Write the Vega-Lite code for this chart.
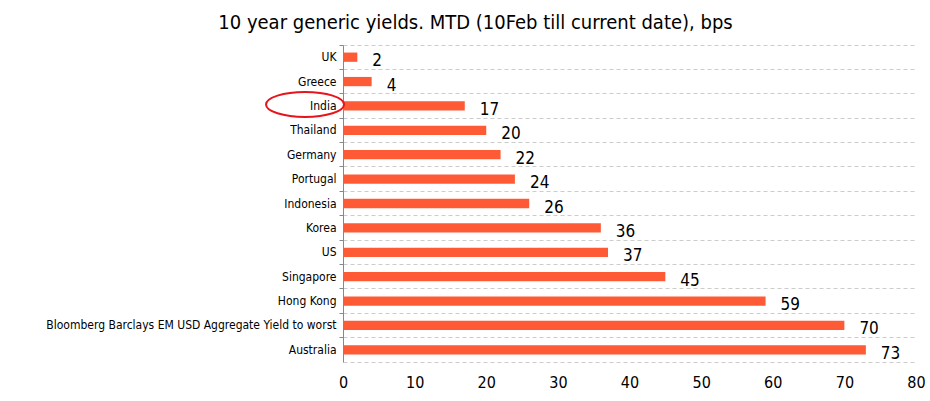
{
  "$schema": "https://vega.github.io/schema/vega-lite/v6.json",
  "autosize": {"type": "none"},
  "padding": {"left": 343, "top": 45, "right": 14, "bottom": 39},
  "width": 573,
  "height": 317,
  "background": "white",
  "config": {"view": {"stroke": null}, "font": "DejaVu Sans Condensed, Liberation Sans"},
  "title": {
    "text": "10 year generic yields. MTD (10Feb till current date), bps",
    "font": "DejaVu Sans Condensed, Liberation Sans",
    "fontSize": 20,
    "fontWeight": "normal",
    "color": "#000000",
    "anchor": "middle",
    "dx": -154,
    "offset": 12
  },
  "data": {
    "values": [
      {"country": "UK", "bps": 2},
      {"country": "Greece", "bps": 4},
      {"country": "India", "bps": 17},
      {"country": "Thailand", "bps": 20},
      {"country": "Germany", "bps": 22},
      {"country": "Portugal", "bps": 24},
      {"country": "Indonesia", "bps": 26},
      {"country": "Korea", "bps": 36},
      {"country": "US", "bps": 37},
      {"country": "Singapore", "bps": 45},
      {"country": "Hong Kong", "bps": 59},
      {"country": "Bloomberg Barclays EM USD Aggregate Yield to worst", "bps": 70},
      {"country": "Australia", "bps": 73}
    ]
  },
  "encoding": {
    "y": {
      "field": "country",
      "type": "nominal",
      "sort": null,
      "scale": {"paddingInner": 0, "paddingOuter": 0},
      "axis": {
        "title": null,
        "bandPosition": 0,
        "grid": true,
        "gridDash": [4, 3],
        "gridColor": "#cccccc",
        "gridWidth": 1.2,
        "domainColor": "#888888",
        "tickColor": "#888888",
        "tickSize": 4,
        "labelFont": "DejaVu Sans Condensed, Liberation Sans",
        "labelFontSize": 12,
        "labelColor": "#000000",
        "labelPadding": 3,
        "labelLimit": 0
      }
    },
    "x": {
      "field": "bps",
      "type": "quantitative",
      "scale": {"domain": [0, 80], "nice": false},
      "axis": {
        "title": null,
        "grid": false,
        "ticks": false,
        "values": [0, 10, 20, 30, 40, 50, 60, 70, 80],
        "domainDash": [4, 3],
        "domainColor": "#cccccc",
        "domainWidth": 1.2,
        "labelFont": "DejaVu Sans Condensed, Liberation Sans",
        "labelFontSize": 16,
        "labelColor": "#000000",
        "labelPadding": 12,
        "labelFlush": false
      }
    }
  },
  "layer": [
    {
      "mark": {"type": "bar", "color": "#ff5a36", "height": {"band": 0.38}}
    },
    {
      "mark": {
        "type": "text",
        "align": "left",
        "baseline": "middle",
        "dx": 15,
        "dy": 4,
        "font": "DejaVu Sans Condensed, Liberation Sans",
        "fontSize": 17,
        "color": "#000000"
      },
      "encoding": {"text": {"field": "bps", "type": "quantitative"}}
    },
    {
      "data": {"values": [{"country": "India", "pos": -5.3}]},
      "mark": {
        "type": "point",
        "shape": "M-1,0A1,0.32,0,1,0,1,0A1,0.32,0,1,0,-1,0Z",
        "size": 6084,
        "filled": false,
        "stroke": "#e8141b",
        "strokeWidth": 2,
        "opacity": 1,
        "yOffset": -1.5
      },
      "encoding": {
        "x": {"field": "pos", "type": "quantitative"},
        "y": {"field": "country", "type": "nominal", "sort": null}
      }
    }
  ]
}
